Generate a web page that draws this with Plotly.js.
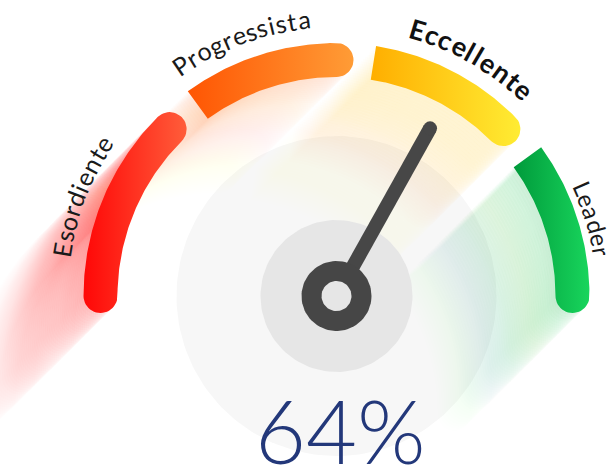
<!DOCTYPE html>
<html><head><meta charset="utf-8">
<script src="https://cdn.plot.ly/plotly-3.0.1.min.js"></script>
<style>html,body{margin:0;padding:0;background:#fff;overflow:hidden}</style>
</head><body><div id="chart" style="width:616px;height:475px"></div>
<script>
// ---- data ----
const bandLabels = ["Esordiente", "Progressista", "Eccellente", "Leader"];
const bandEdges = [0, 25, 50, 75, 100];
const value = 64;
const valueText = "64%";
// ---- styles ----
const bandColorStart = ["#ff0707", "#ff5503", "#ffae00", "#009a3b"];
const bandColorEnd = ["#ff5d3a", "#ff9c36", "#ffec33", "#18d55c"];
const shadowRGB = [[255, 40, 40], [255, 130, 70], [255, 210, 70], [40, 185, 95]];
const shadowStrength = [0.026, 0.017, 0.026, 0.023];
const labelShift = [1.2, 2.5, -2.5, -1.2];

const R = 236, W = 34, GAP = 9, SPAN = 45;
const D = Math.PI / 180;

function bandAngles(i) {
  const a0 = 180 - SPAN * i - (i > 0 ? GAP : 0);
  const a1 = 180 - SPAN * (i + 1);
  return [a0, a1];
}
function valueAngle(v) {
  for (let i = 0; i < bandLabels.length; i++) {
    if (v <= bandEdges[i + 1] || i === bandLabels.length - 1) {
      const [a0, a1] = bandAngles(i);
      const f = (v - bandEdges[i]) / (bandEdges[i + 1] - bandEdges[i]);
      return a0 + f * (a1 - a0);
    }
  }
}
function arcPolygon(a0, a1, roundStart, roundEnd) {
  const xs = [], ys = [], h = W / 2;
  const n = Math.max(8, Math.round(Math.abs(a0 - a1) * 2));
  for (let k = 0; k <= n; k++) { const a = (a0 + (a1 - a0) * k / n) * D; xs.push((R + h) * Math.cos(a)); ys.push((R + h) * Math.sin(a)); }
  if (roundEnd) {
    const a = a1 * D, px = R * Math.cos(a), py = R * Math.sin(a);
    const u = [Math.cos(a), Math.sin(a)], t = [Math.sin(a), -Math.cos(a)];
    for (let k = 1; k < 24; k++) { const p = Math.PI * k / 24; xs.push(px + h * (u[0] * Math.cos(p) + t[0] * Math.sin(p))); ys.push(py + h * (u[1] * Math.cos(p) + t[1] * Math.sin(p))); }
  }
  for (let k = 0; k <= n; k++) { const a = (a1 + (a0 - a1) * k / n) * D; xs.push((R - h) * Math.cos(a)); ys.push((R - h) * Math.sin(a)); }
  if (roundStart) {
    const a = a0 * D, px = R * Math.cos(a), py = R * Math.sin(a);
    const u = [Math.cos(a), Math.sin(a)], t = [-Math.sin(a), Math.cos(a)];
    for (let k = 1; k < 24; k++) { const p = Math.PI * k / 24; xs.push(px + h * (-u[0] * Math.cos(p) + t[0] * Math.sin(p))); ys.push(py + h * (-u[1] * Math.cos(p) + t[1] * Math.sin(p))); }
  }
  xs.push(xs[0]); ys.push(ys[0]);
  return [xs, ys];
}
function circle(r, n) {
  const xs = [], ys = [];
  for (let k = 0; k <= n; k++) { const a = 2 * Math.PI * k / n; xs.push(r * Math.cos(a)); ys.push(r * Math.sin(a)); }
  return [xs, ys];
}
function filled(xy, color, extra) {
  return Object.assign({ x: xy[0], y: xy[1], type: 'scatter', mode: 'lines', fill: 'toself', fillcolor: color, line: { width: 0 }, hoverinfo: 'skip' }, extra || {});
}

const traces = [];
// big light disc
traces.push(filled(circle(160, 180), 'rgb(247,247,247)'));

// long shadows
const NS = 60, STEP = 2.15;
bandLabels.forEach((_, i) => {
  const [a0, a1] = bandAngles(i);
  const poly = arcPolygon(a0, a1, i === 0, true);
  const c = shadowRGB[i];
  for (let k = NS; k >= 1; k--) {
    const s = k * STEP;
    const al = shadowStrength[i] * (1 - (k - 1) / NS);
    traces.push(filled([poly[0].map(v => v - s), poly[1].map(v => v - s)], `rgba(${c[0]},${c[1]},${c[2]},${al.toFixed(4)})`));
  }
});

// coloured arcs
bandLabels.forEach((_, i) => {
  const [a0, a1] = bandAngles(i);
  const poly = arcPolygon(a0, a1, i === 0, true);
  const mn = Math.min(...poly[0]), mx = Math.max(...poly[0]);
  traces.push({
    x: poly[0], y: poly[1], type: 'scatter', mode: 'lines', fill: 'toself', line: { width: 0 }, hoverinfo: 'skip',
    fillgradient: { type: 'horizontal', start: mn, stop: mx, colorscale: [[0, bandColorStart[i]], [1, bandColorEnd[i]]] }
  });
});

// inner gray disc
traces.push(filled(circle(76, 120), '#e6e6e6'));
// needle
const na = valueAngle(value) * D, NL = 192;
traces.push({ x: [0, NL * Math.cos(na)], y: [0, NL * Math.sin(na)], type: 'scatter', mode: 'lines', line: { color: '#474747', width: 14 }, hoverinfo: 'skip' });
traces.push({ x: [NL * Math.cos(na)], y: [NL * Math.sin(na)], type: 'scatter', mode: 'markers', marker: { color: '#474747', size: 14 }, hoverinfo: 'skip' });
// hub
traces.push(filled(circle(35, 90), '#464646'));
traces.push(filled(circle(15, 60), '#e6e6e6'));

// curved labels
const ctx = document.createElement('canvas').getContext('2d');
const annotations = [];
bandLabels.forEach((label, i) => {
  const [a0, a1] = bandAngles(i);
  const centerDeg = (a0 + a1) / 2 + labelShift[i];
  const bold = i === 2;
  const size = bold ? 27 : (i === 3 ? 24 : 25);
  const spacing = bold ? 1.8 : 1.3;
  const r = i === 3 ? 269 : 279;
  ctx.font = `${bold ? 'bold ' : ''}${size}px Lato`;
  const chars = Array.from(label);
  const widths = chars.map((ch, k) => ctx.measureText(label.slice(0, k + 1)).width);
  const total = widths[widths.length - 1] + spacing * (chars.length - 1);
  chars.forEach((ch, k) => {
    const left = (k === 0 ? 0 : widths[k - 1]) + spacing * k;
    const right = widths[k] + spacing * k;
    const mid = (left + right) / 2 - total / 2;
    const ang = centerDeg - (mid / r) / D;
    annotations.push({
      x: r * Math.cos(ang * D), y: r * Math.sin(ang * D), xref: 'x', yref: 'y', text: ch, showarrow: false,
      xanchor: 'center', yanchor: 'middle', textangle: 90 - ang,
      font: { family: 'Lato', size: size, color: bold ? '#111111' : '#1a1a1a', weight: bold ? 700 : 400 }
    });
  });
});
annotations.push({
  x: 4, y: -134, xref: 'x', yref: 'y', text: valueText, showarrow: false, xanchor: 'center', yanchor: 'middle',
  font: { family: 'Lato', size: 88, color: '#23387a', weight: 300 }
});

const layout = {
  width: 616, height: 475, margin: { l: 0, r: 0, t: 0, b: 0 }, showlegend: false,
  paper_bgcolor: '#ffffff', plot_bgcolor: '#ffffff',
  xaxis: { range: [-336.5, 279.5], visible: false, fixedrange: true },
  yaxis: { range: [-179, 296], visible: false, fixedrange: true },
  annotations: annotations
};
Plotly.newPlot('chart', traces, layout, { staticPlot: true, displayModeBar: false });
</script></body></html>
